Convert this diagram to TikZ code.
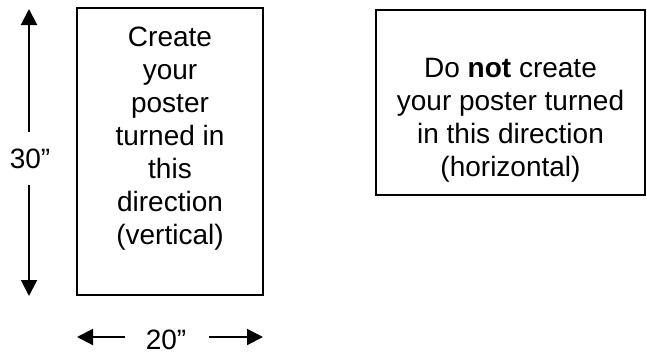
\documentclass[tikz,border=0pt]{standalone}
\usepackage{fontspec}
\setmainfont{Liberation Sans}
\usetikzlibrary{arrows.meta}
\tikzset{
  posterbox/.style={draw=black, line width=2pt, rectangle, inner sep=0pt},
  txt/.style={font=\fontsize{28}{33}\selectfont, align=center, inner sep=0pt},
  dimarrow/.style={line width=2pt, -{Triangle[length=16pt,width=16pt]}},
}
\begin{document}
\begin{tikzpicture}[x=1pt,y=-1pt]
\useasboundingbox (0,0) rectangle (647,356);
% boxes
\node[posterbox, minimum width=186pt, minimum height=287pt] (vbox) at (170,151.5) {};
\node[posterbox, minimum width=269pt, minimum height=185pt] (hbox) at (510.5,102.5) {};
% texts
\node[txt, anchor=north] (vtext) at (170,27) {Create\\your\\poster\\turned in\\this\\direction\\(vertical)};
\node[txt, anchor=north] (htext) at (510.5,58) {Do \textbf{not} create\\your poster turned\\in this direction\\(horizontal)};
% vertical dimension
\node[txt] (l30) at (30,159) {30”};
\coordinate (vtopend) at (29,132);
\coordinate (vtop) at (29,9);
\coordinate (vbotend) at (29,185);
\coordinate (vbot) at (29,296);
\draw[dimarrow] (vtopend) -- (vtop);
\draw[dimarrow] (vbotend) -- (vbot);
% horizontal dimension
\node[txt] (l20) at (166,340) {20”};
\coordinate (hleftend) at (125,337);
\coordinate (hleft) at (77,337);
\coordinate (hrightend) at (209,337);
\coordinate (hright) at (263,337);
\draw[dimarrow] (hleftend) -- (hleft);
\draw[dimarrow] (hrightend) -- (hright);
\end{tikzpicture}
\end{document}
